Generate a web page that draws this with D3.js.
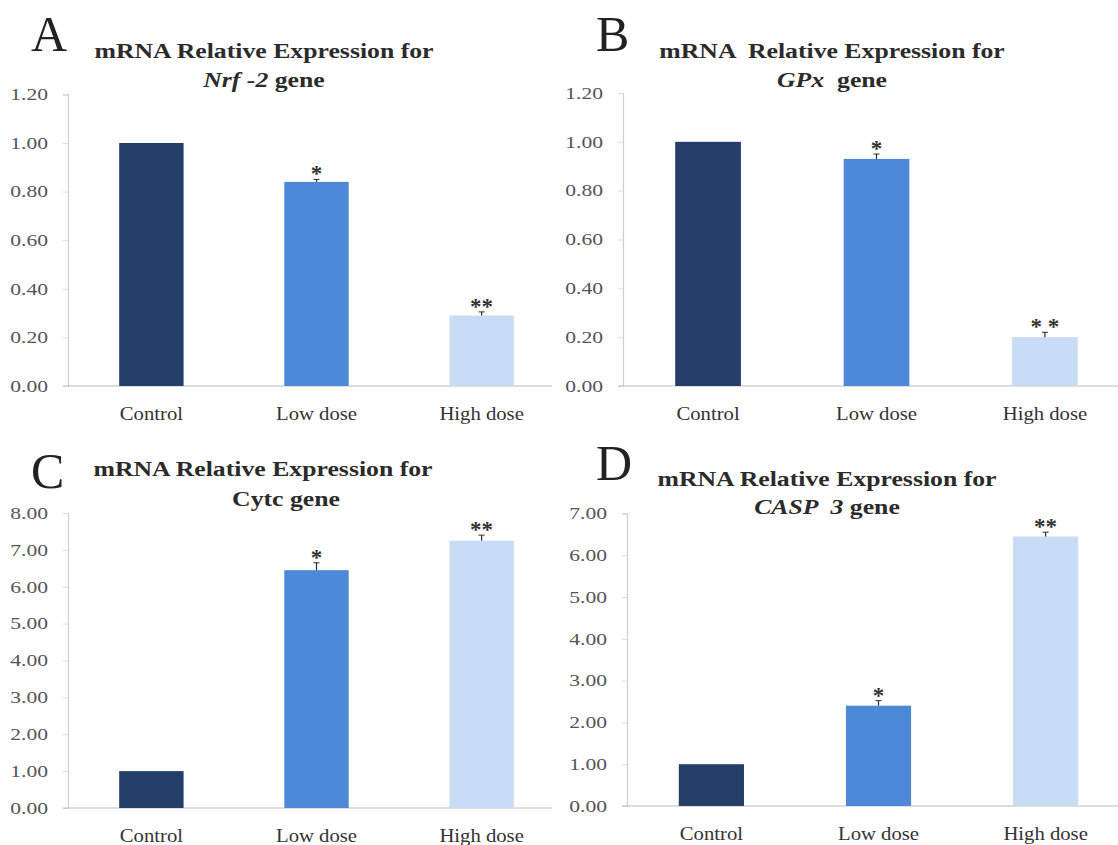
<!DOCTYPE html>
<html>
<head>
<meta charset="utf-8">
<script src="https://cdn.jsdelivr.net/npm/d3@7"></script>
<style>
  html, body { margin: 0; padding: 0; background: #fff; }
  svg text { font-family: "Liberation Serif", "Times New Roman", serif; white-space: pre; }
</style>
</head>
<body>
<svg id="chart" width="1118" height="845"></svg>
<script>
// ---------- DATA ----------
const categories = ["Control", "Low dose", "High dose"];

const nrf2Values = [1.00, 0.84, 0.29];
const nrf2Errors = [0.00, 0.01, 0.015];
const nrf2Stars  = ["", "*", "**"];

const gpxValues = [1.00, 0.93, 0.20];
const gpxErrors = [0.00, 0.02, 0.02];
const gpxStars  = ["", "*", "* *"];

const cytcValues = [1.00, 6.45, 7.25];
const cytcErrors = [0.00, 0.20, 0.15];
const cytcStars  = ["", "*", "**"];

const casp3Values = [1.00, 2.40, 6.45];
const casp3Errors = [0.00, 0.12, 0.10];
const casp3Stars  = ["", "*", "**"];

const ticksAB = [0.00, 0.20, 0.40, 0.60, 0.80, 1.00, 1.20];
const ticksC  = [0, 1, 2, 3, 4, 5, 6, 7, 8];
const ticksD  = [0, 1, 2, 3, 4, 5, 6, 7];

const barColors = ["#233e69", "#4d89d7", "#c8dcf5"];

// ---------- LAYOUT ----------
const panels = [
  { letter: "A", values: nrf2Values, errors: nrf2Errors, stars: nrf2Stars, ticks: ticksAB,
    axisX: 68, right: 565, lineEnd: 552, y0: 386, yTop: 94.4,
    letterPos: [31, 51],
    title: [[{t: "mRNA Relative Expression for"}], [{t: "Nrf -2", i: true}, {t: " gene"}]],
    titleX: 264, titleY: [58, 87] },
  { letter: "B", values: gpxValues, errors: gpxErrors, stars: gpxStars, ticks: ticksAB,
    axisX: 623, right: 1130, lineEnd: 1118, y0: 386, yTop: 93,
    letterPos: [596, 51],
    title: [[{t: "mRNA  Relative Expression for"}], [{t: "GPx", i: true}, {t: "  gene"}]],
    titleX: 832, titleY: [58, 87] },
  { letter: "C", values: cytcValues, errors: cytcErrors, stars: cytcStars, ticks: ticksC,
    axisX: 68, right: 565, lineEnd: 552, y0: 808, yTop: 513,
    letterPos: [31, 488],
    title: [[{t: "mRNA Relative Expression for"}], [{t: "Cytc gene"}]],
    titleX: [263, 286], titleY: [476, 506] },
  { letter: "D", values: casp3Values, errors: casp3Errors, stars: casp3Stars, ticks: ticksD,
    axisX: 627, right: 1130, lineEnd: 1118, y0: 806, yTop: 513.4,
    letterPos: [596, 480],
    title: [[{t: "mRNA Relative Expression for"}], [{t: "CASP  3", i: true}, {t: " gene"}]],
    titleX: 827, titleY: [486, 514] }
];

const svg = d3.select("#chart");
const TICK_SX = 1.35, CAT_SX = 1.15, TITLE_SX = 1.17;

panels.forEach(p => {
  const g = svg.append("g");
  const maxTick = p.ticks[p.ticks.length - 1];

  const x = d3.scaleBand().domain(categories).range([p.axisX, p.right])
    .paddingInner(0.61).paddingOuter(0.31);
  const y = d3.scaleLinear().domain([0, maxTick]).range([p.y0, p.yTop]);

  // Y axis
  const yAxis = d3.axisLeft(y).tickValues(p.ticks).tickFormat(d3.format(".2f"))
    .tickSize(5).tickPadding(0);
  const ya = g.append("g").attr("transform", `translate(${p.axisX},0)`).call(yAxis);
  ya.select(".domain").attr("stroke", "#cfcfcf").attr("stroke-width", 1.2);
  ya.selectAll(".tick line").attr("stroke", "#dcdcdc");
  ya.selectAll(".tick text")
    .attr("fill", "#555")
    .attr("font-size", 16)
    .attr("dy", "0.33em")
    .attr("x", null)
    .attr("transform", `translate(-20,0) scale(${TICK_SX},1)`)
    .attr("text-anchor", "end");

  // Baseline
  g.append("line")
    .attr("x1", p.axisX - 5).attr("x2", p.lineEnd)
    .attr("y1", y(0)).attr("y2", y(0))
    .attr("stroke", "#bdbdbd").attr("stroke-width", 1.2);

  // Bars
  g.selectAll("rect.bar").data(categories).join("rect")
    .attr("class", "bar")
    .attr("x", d => x(d))
    .attr("width", x.bandwidth())
    .attr("y", (d, i) => y(p.values[i]))
    .attr("height", (d, i) => y(0) - y(p.values[i]))
    .attr("fill", (d, i) => barColors[i]);

  // Error bars
  const cx = d => x(d) + x.bandwidth() / 2;
  g.selectAll("line.err").data(categories).join("line")
    .attr("class", "err")
    .attr("x1", cx).attr("x2", cx)
    .attr("y1", (d, i) => y(p.values[i]))
    .attr("y2", (d, i) => y(p.values[i] + p.errors[i]))
    .attr("stroke", "#2a2a2a").attr("stroke-width", 1.2)
    .attr("opacity", (d, i) => p.errors[i] > 0 ? 1 : 0);
  g.selectAll("line.cap").data(categories).join("line")
    .attr("class", "cap")
    .attr("x1", d => cx(d) - 3).attr("x2", d => cx(d) + 3)
    .attr("y1", (d, i) => y(p.values[i] + p.errors[i]))
    .attr("y2", (d, i) => y(p.values[i] + p.errors[i]))
    .attr("stroke", "#2a2a2a").attr("stroke-width", 1)
    .attr("opacity", (d, i) => p.errors[i] > 0 ? 1 : 0);

  // Significance stars
  g.selectAll("text.star").data(categories).join("text")
    .attr("class", "star")
    .attr("x", cx)
    .attr("y", (d, i) => y(p.values[i] + p.errors[i]) + 2)
    .attr("text-anchor", "middle")
    .attr("font-size", 23)
    .attr("font-weight", "bold")
    .attr("fill", "#333")
    .text((d, i) => p.stars[i]);

  // Category labels
  g.selectAll("text.cat").data(categories).join("text")
    .attr("class", "cat")
    .attr("transform", d => `translate(${cx(d)},${y(0) + 34}) scale(${CAT_SX},1)`)
    .attr("text-anchor", "middle")
    .attr("font-size", 18)
    .attr("fill", "#333")
    .text(d => d);

  // Panel letter
  g.append("text")
    .attr("x", p.letterPos[0]).attr("y", p.letterPos[1])
    .attr("font-size", 50)
    .attr("fill", "#222")
    .text(p.letter);

  // Title
  p.title.forEach((line, li) => {
    const tx = Array.isArray(p.titleX) ? p.titleX[li] : p.titleX;
    const t = g.append("text")
      .attr("transform", `translate(${tx},${p.titleY[li]}) scale(${TITLE_SX},1)`)
      .attr("text-anchor", "middle")
      .attr("font-size", 22)
      .attr("font-weight", "bold")
      .attr("fill", "#2b2b2b");
    line.forEach(seg => {
      t.append("tspan").attr("font-style", seg.i ? "italic" : "normal").text(seg.t);
    });
  });
});
</script>
</body>
</html>
